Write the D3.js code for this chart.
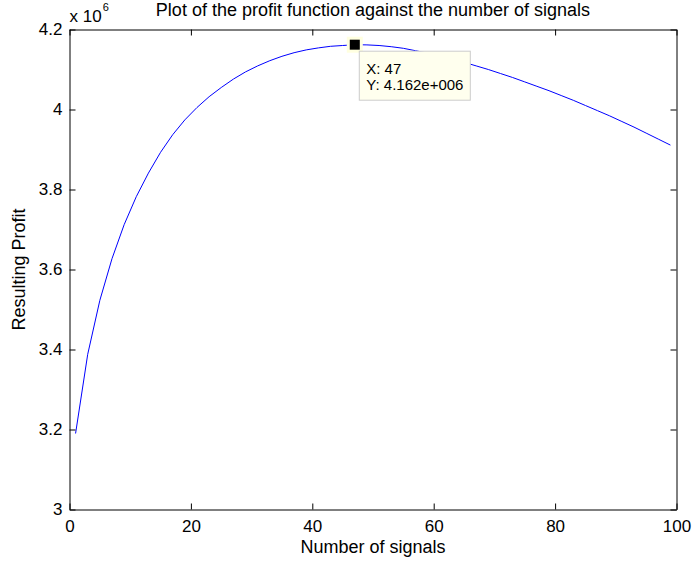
<!DOCTYPE html>
<html>
<head>
<meta charset="utf-8">
<script src="https://d3js.org/d3.v7.min.js"></script>
<style>
  html, body { margin: 0; padding: 0; background: #fff; }
  svg { display: block; }
  text { font-family: "Liberation Sans", Arial, Helvetica, sans-serif; fill: #000; }
</style>
</head>
<body>
<svg id="chart" width="693" height="566"></svg>
<script>
// ---- data ----
const signals = [1,3,5,7,9,11,13,15,17,19,21,23,25,27,29,31,33,35,37,39,41,43,45,47,49,
                 51,53,55,57,59,61,63,65,67,69,71,73,75,77,79,81,83,85,87,89,91,93,95,97,99];
const profit = [3.190,3.388,3.523,3.627,3.712,3.782,3.841,3.893,3.937,3.974,4.005,4.032,4.055,4.076,4.094,4.109,4.122,4.133,4.142,4.149,4.154,4.158,4.160,4.162,4.1615,
                4.160,4.157,4.153,4.147,4.141,4.134,4.126,4.118,4.109,4.100,4.090,4.080,4.069,4.058,4.047,4.035,4.023,4.010,3.997,3.984,3.970,3.956,3.941,3.926,3.911];
const xTicks = [0, 20, 40, 60, 80, 100];
const yTicks = [3, 3.2, 3.4, 3.6, 3.8, 4, 4.2];
const yTickLabels = ["3", "3.2", "3.4", "3.6", "3.8", "4", "4.2"];
const cursorIndex = 23; // X: 47
const titleText = "Plot of the profit function against the number of signals";
const xLabelText = "Number of signals";
const yLabelText = "Resulting Profit";

// ---- layout ----
const svg = d3.select("#chart");
const L = 69.5, R = 676.5, T = 29.5, B = 509.5;
const x = d3.scaleLinear().domain([0, 100]).range([L, R]);
const y = d3.scaleLinear().domain([3, 4.2]).range([B, T]);
const fs = 17;
const lfs = 18;

// line
const line = d3.line().x((d, i) => x(signals[i])).y(d => y(d));
svg.append("path")
  .datum(profit)
  .attr("d", line)
  .attr("fill", "none")
  .attr("stroke", "#0000ff")
  .attr("stroke-width", 1);

// axes
function styleAxis(g) {
  g.selectAll(".domain").attr("stroke", "#000").attr("stroke-width", 1);
  g.selectAll(".tick line").attr("stroke", "#000").attr("stroke-width", 1);
  g.selectAll(".tick text").style("font-size", fs + "px").attr("fill", "#000")
    .style("font-family", '"Liberation Sans", Arial, sans-serif');
}
svg.append("g").attr("transform", `translate(0,${B})`)
  .call(d3.axisBottom(x).tickValues(xTicks).tickSizeInner(-6).tickSizeOuter(0).tickPadding(10).tickFormat(d3.format("d")))
  .call(styleAxis);
svg.append("g").attr("transform", `translate(0,${T})`)
  .call(d3.axisTop(x).tickValues(xTicks).tickSizeInner(-6).tickSizeOuter(0).tickFormat(""))
  .call(styleAxis);
svg.append("g").attr("transform", `translate(${L},0)`)
  .call(d3.axisLeft(y).tickValues(yTicks).tickSizeInner(-6).tickSizeOuter(0).tickPadding(7)
    .tickFormat((d, i) => yTickLabels[i]))
  .call(styleAxis);
svg.append("g").attr("transform", `translate(${R},0)`)
  .call(d3.axisRight(y).tickValues(yTicks).tickSizeInner(-6).tickSizeOuter(0).tickFormat(""))
  .call(styleAxis);

// exponent label
const ex = svg.append("text").attr("x", L).attr("y", 22).style("font-size", fs + "px");
ex.append("tspan").text("x 10");
ex.append("tspan").attr("dx", 1).attr("dy", -11).style("font-size", "11px").text("6");

// title and axis labels
svg.append("text").attr("x", (L + R) / 2).attr("y", 15.5).attr("text-anchor", "middle")
  .style("font-size", lfs + "px").text(titleText);
svg.append("text").attr("x", (L + R) / 2).attr("y", 553).attr("text-anchor", "middle")
  .style("font-size", lfs + "px").text(xLabelText);
svg.append("text").attr("transform", `translate(25,${(T + B) / 2}) rotate(-90)`).attr("text-anchor", "middle")
  .style("font-size", lfs + "px").text(yLabelText);

// data cursor
const cx = x(signals[cursorIndex]), cy = y(profit[cursorIndex]);
svg.append("rect").attr("x", cx - 8).attr("y", cy - 8).attr("width", 16).attr("height", 16).attr("fill", "#ffffe0");
svg.append("rect").attr("x", cx - 5).attr("y", cy - 5).attr("width", 10).attr("height", 10).attr("fill", "#000");
const bx = cx + 4.5, by = cy + 6.5;
svg.append("rect").attr("x", bx).attr("y", by).attr("width", 111).attr("height", 49)
  .attr("fill", "#ffffee").attr("stroke", "#cccccc").attr("stroke-width", 1);
svg.append("text").attr("x", bx + 7).attr("y", by + 22.5).style("font-size", "15px")
  .text("X: " + signals[cursorIndex]);
svg.append("text").attr("x", bx + 7).attr("y", by + 38.5).style("font-size", "15px")
  .text("Y: " + profit[cursorIndex].toFixed(3) + "e+006");
</script>
</body>
</html>
